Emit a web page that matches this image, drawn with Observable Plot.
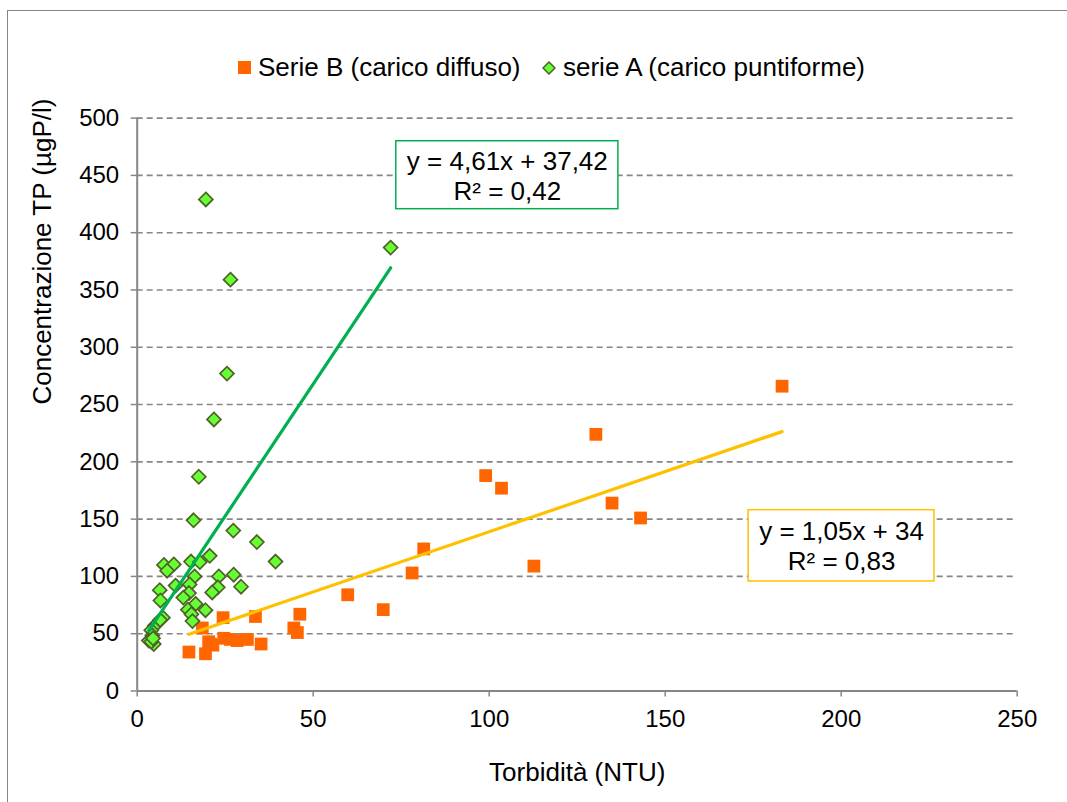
<!DOCTYPE html>
<html>
<head>
<meta charset="utf-8">
<script src="https://cdn.jsdelivr.net/npm/d3@7"></script>
<script src="https://cdn.jsdelivr.net/npm/@observablehq/plot@0.6"></script>
<style>
  html, body { margin: 0; padding: 0; background: #fff; overflow: hidden; }
  #wrap { position: relative; width: 1067px; height: 802px; font-family: "Liberation Sans", Arial, sans-serif; }
  #frame { position: absolute; left: 7px; top: 10px; width: 1200px; height: 900px; border: 1.5px solid #868686; pointer-events: none; }
  #legend { position: absolute; left: 0; top: 0; width: 1067px; height: 100px; }
  .item { position: absolute; top: 52px; display: flex; align-items: center; font-size: 26px; color: #000; white-space: nowrap; }
  #chart { position: absolute; left: 0; top: 100px; }
</style>
</head>
<body>
<div id="wrap">
  <div id="legend"></div>
  <div id="chart"></div>
  <div id="frame"></div>
</div>
<script>
// ---- data ----
const seriesBName = "Serie B (carico diffuso)";
const seriesAName = "serie A (carico puntiforme)";

const seriesBx = [14.7, 19.4, 18.5, 20.8, 21.5, 20.3, 24.4, 24.6, 26.5, 28.4, 31.3, 33.6, 35.2, 44.5, 45.5, 46.2, 59.8, 69.9, 78.1, 81.4, 99.0, 103.5, 112.7, 130.3, 134.9, 143.0, 183.2];
const seriesBy = [34, 32.5, 55, 41, 40, 43, 64, 46, 45, 44, 45, 65, 41, 55, 51, 67, 84, 71, 103, 124, 188, 177, 109, 224, 164, 151, 266];

const seriesAx = [19.5, 26.5, 72.0, 25.5, 21.8, 17.5, 16.0, 27.3, 34.0, 39.3, 7.6, 10.4, 8.5, 15.3, 17.8, 20.6, 16.3, 23.2, 27.4, 29.5, 6.4, 10.9, 14.9, 22.9, 21.3, 14.7, 13.1, 6.6, 16.6, 14.4, 19.4, 15.4, 7.3, 15.7, 5.0, 4.0, 4.3, 3.3, 4.7, 4.0, 4.5, 6.5];
const seriesAy = [429, 359, 387, 277, 237, 187, 149, 140, 130, 113, 110, 110.5, 105, 113, 112.5, 118, 100, 100, 101.5, 91, 88, 92, 93, 90.5, 86, 85.5, 81.5, 79, 76, 71, 70.5, 67, 64, 61, 57, 53, 48.5, 44, 41, 43, 46, 62];

// trend line equations (slope, intercept) and their labels
const trendA = [4.61, 37.42];
const trendB = [1.05, 34];
const labelA = "y = 4,61x + 37,42\nR² = 0,42";
const labelB = "y = 1,05x + 34\nR² = 0,83";
// label boxes (data coordinates: x1, x2, y1, y2)
const boxA = [73.6, 136.7, 420.5, 479.8];
const boxB = [173.7, 226.5, 95.6, 157.8];

const xTicks = [0, 50, 100, 150, 200, 250];
const yTicks = [0, 50, 100, 150, 200, 250, 300, 350, 400, 450, 500];
const xTitle = "Torbidità (NTU)";
const yTitle = "Concentrazione TP (µgP/l)";

// ---- colours ----
const orange = "#ff6600";
const greenFill = "#66ff33";
const greenStroke = "#4f6228";
const greenLine = "#00b050";
const yellowLine = "#ffc000";
const gray = "#868686";

// ---- build tables ----
const dataB = seriesBx.map((x, i) => ({x, y: seriesBy[i]}));
const dataA = seriesAx.map((x, i) => ({x, y: seriesAy[i]}));
const lineOf = (xs, c) => d3.extent(xs).map(x => ({x, y: c[0] * x + c[1]}));
const lineA = lineOf(seriesAx, trendA);
const lineB = lineOf(seriesBx, trendB);
const boxes = [
  {x1: boxA[0], x2: boxA[1], y1: boxA[2], y2: boxA[3], c: greenLine, t: labelA},
  {x1: boxB[0], x2: boxB[1], y1: boxB[2], y2: boxB[3], c: yellowLine, t: labelB}
];

const chart = Plot.plot({
  width: 1067,
  height: 702,
  marginLeft: 136.7,
  marginRight: 50.3,
  marginTop: 17.6,
  marginBottom: 111.5,
  style: {fontFamily: "'Liberation Sans', Arial, sans-serif", fontSize: "24px", color: "#000", background: "transparent"},
  x: {domain: [0, 250]},
  y: {domain: [0, 500]},
  marks: [
    Plot.gridY(yTicks.filter(d => d > 0), {stroke: gray, strokeOpacity: 1, strokeWidth: 1.6, strokeDasharray: "6,4"}),
    Plot.axisY(yTicks, {tickSize: 6, tickPadding: 12, stroke: gray, strokeWidth: 1.5, fill: "#000", label: null, fontSize: 24}),
    Plot.axisX(xTicks, {tickSize: 6, tickPadding: 13, stroke: gray, strokeWidth: 1.5, fill: "#000", label: null, fontSize: 24}),
    Plot.ruleX([0], {stroke: gray, strokeWidth: 2}),
    Plot.ruleY([0], {stroke: gray, strokeWidth: 2}),
    Plot.dot(dataB, {x: "x", y: "y", symbol: "square", r: 7.2, fill: orange, stroke: "none"}),
    Plot.dot(dataA, {x: "x", y: "y", symbol: "diamond2", r: 6.3, fill: greenFill, stroke: greenStroke, strokeWidth: 1.7}),
    Plot.line(lineA, {x: "x", y: "y", stroke: greenLine, strokeWidth: 3.2}),
    Plot.line(lineB, {x: "x", y: "y", stroke: yellowLine, strokeWidth: 3.2}),
    Plot.rect(boxes, {x1: "x1", x2: "x2", y1: "y1", y2: "y2", fill: "#fff", stroke: "c", strokeWidth: 1.5}),
    Plot.text(boxes, {x: d => (d.x1 + d.x2) / 2, y: d => (d.y1 + d.y2) / 2, text: "t", fontSize: 26, lineHeight: 1.15, fill: "#000", lineAnchor: "middle"}),
    Plot.text([yTitle], {frameAnchor: "left", dx: -95, rotate: -90, fontSize: 26, fill: "#000", lineAnchor: "middle"}),
    Plot.text([xTitle], {frameAnchor: "bottom", dy: 82, fontSize: 26, fill: "#000", lineAnchor: "middle"})
  ]
});
document.getElementById("chart").appendChild(chart);

// ---- legend ----
const legend = document.getElementById("legend");
const itemB = document.createElement("div");
itemB.className = "item";
itemB.style.left = "238px";
itemB.innerHTML = `<svg width="13" height="13" style="margin-right:7px"><rect x="0" y="0" width="13" height="13" fill="${orange}"/></svg><span>${seriesBName}</span>`;
legend.appendChild(itemB);
const itemA = document.createElement("div");
itemA.className = "item";
itemA.style.left = "542px";
itemA.innerHTML = `<svg width="14" height="14" style="margin-right:7px"><path d="M7,1L13,7L7,13L1,7Z" fill="${greenFill}" stroke="${greenStroke}" stroke-width="1.5"/></svg><span>${seriesAName}</span>`;
legend.appendChild(itemA);
</script>
</body>
</html>
